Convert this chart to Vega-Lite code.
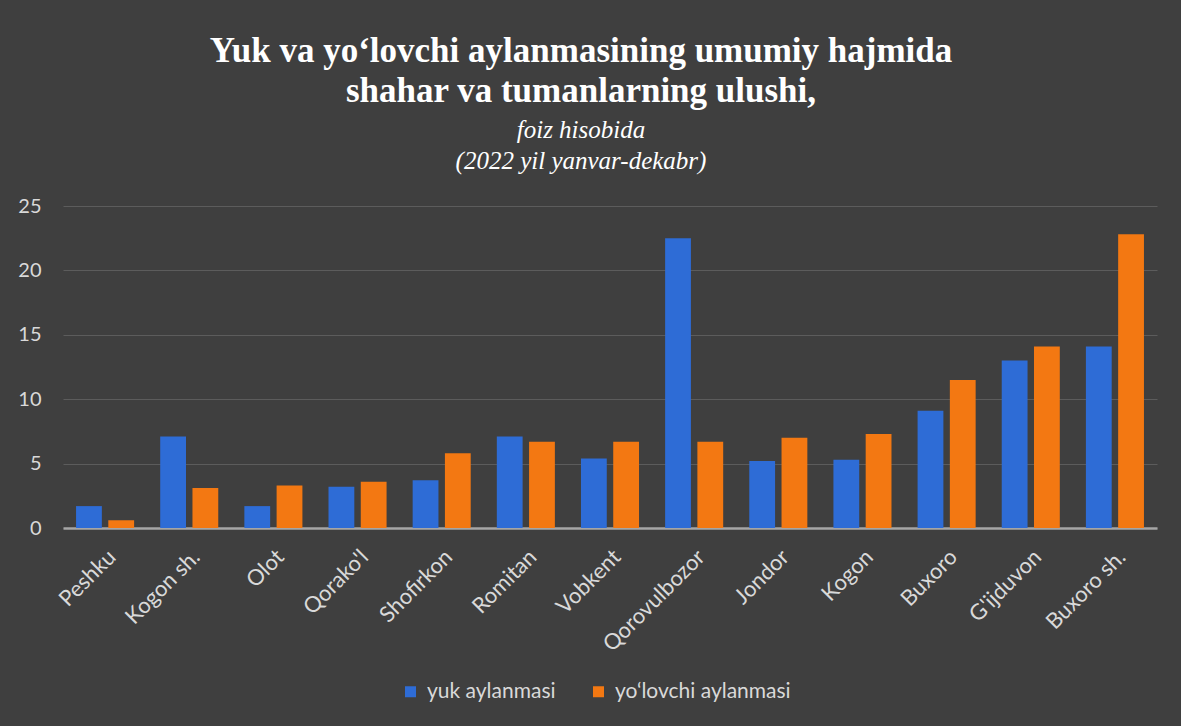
{
  "$schema": "https://vega.github.io/schema/vega-lite/v6.json",
  "width": 1094,
  "height": 322,
  "autosize": {"type": "none"},
  "padding": {"left": 63, "top": 206, "right": 24, "bottom": 198},
  "background": "#3f3f3f",
  "title": {
    "text": ["Yuk va yo‘lovchi aylanmasining umumiy hajmida", "shahar va tumanlarning ulushi,"],
    "subtitle": ["foiz hisobida", "(2022 yil yanvar-dekabr)"],
    "anchor": "middle",
    "dx": -29,
    "offset": 22,
    "font": "Liberation Serif",
    "fontSize": 35,
    "fontWeight": "bold",
    "color": "#ffffff",
    "lineHeight": 40,
    "subtitleFont": "Liberation Serif",
    "subtitleFontSize": 25,
    "subtitleFontStyle": "italic",
    "subtitleColor": "#ffffff",
    "subtitleLineHeight": 31,
    "subtitlePadding": 9
  },
  "data": {
    "values": [
      {"region": "Peshku", "series": "yuk aylanmasi", "value": 1.7},
      {"region": "Peshku", "series": "yo‘lovchi aylanmasi", "value": 0.6},
      {"region": "Kogon sh.", "series": "yuk aylanmasi", "value": 7.1},
      {"region": "Kogon sh.", "series": "yo‘lovchi aylanmasi", "value": 3.1},
      {"region": "Olot", "series": "yuk aylanmasi", "value": 1.7},
      {"region": "Olot", "series": "yo‘lovchi aylanmasi", "value": 3.3},
      {"region": "Qorako'l", "series": "yuk aylanmasi", "value": 3.2},
      {"region": "Qorako'l", "series": "yo‘lovchi aylanmasi", "value": 3.6},
      {"region": "Shofirkon", "series": "yuk aylanmasi", "value": 3.7},
      {"region": "Shofirkon", "series": "yo‘lovchi aylanmasi", "value": 5.8},
      {"region": "Romitan", "series": "yuk aylanmasi", "value": 7.1},
      {"region": "Romitan", "series": "yo‘lovchi aylanmasi", "value": 6.7},
      {"region": "Vobkent", "series": "yuk aylanmasi", "value": 5.4},
      {"region": "Vobkent", "series": "yo‘lovchi aylanmasi", "value": 6.7},
      {"region": "Qorovulbozor", "series": "yuk aylanmasi", "value": 22.5},
      {"region": "Qorovulbozor", "series": "yo‘lovchi aylanmasi", "value": 6.7},
      {"region": "Jondor", "series": "yuk aylanmasi", "value": 5.2},
      {"region": "Jondor", "series": "yo‘lovchi aylanmasi", "value": 7.0},
      {"region": "Kogon", "series": "yuk aylanmasi", "value": 5.3},
      {"region": "Kogon", "series": "yo‘lovchi aylanmasi", "value": 7.3},
      {"region": "Buxoro", "series": "yuk aylanmasi", "value": 9.1},
      {"region": "Buxoro", "series": "yo‘lovchi aylanmasi", "value": 11.5},
      {"region": "G'ijduvon", "series": "yuk aylanmasi", "value": 13.0},
      {"region": "G'ijduvon", "series": "yo‘lovchi aylanmasi", "value": 14.1},
      {"region": "Buxoro sh.", "series": "yuk aylanmasi", "value": 14.1},
      {"region": "Buxoro sh.", "series": "yo‘lovchi aylanmasi", "value": 22.8}
    ]
  },
  "mark": {"type": "bar"},
  "encoding": {
    "x": {
      "field": "region",
      "type": "nominal",
      "sort": null,
      "title": null,
      "scale": {"paddingInner": 0.31, "paddingOuter": 0.155},
      "axis": {
        "labelAngle": -45,
        "labelFont": "Lato",
        "labelFontSize": 22,
        "labelColor": "#d9d9d9",
        "labelPadding": 18,
        "labelLimit": 0,
        "ticks": false,
        "domainColor": "#a6a6a6",
        "domainWidth": 2.5,
        "grid": false
      }
    },
    "xOffset": {
      "field": "series",
      "type": "nominal",
      "sort": ["yuk aylanmasi", "yo‘lovchi aylanmasi"],
      "scale": {"paddingInner": 0.2, "paddingOuter": 0}
    },
    "y": {
      "field": "value",
      "type": "quantitative",
      "title": null,
      "scale": {"domain": [0, 25], "nice": false},
      "axis": {
        "values": [0, 5, 10, 15, 20, 25],
        "labelFont": "Lato",
        "labelFontSize": 20,
        "labelColor": "#d9d9d9",
        "labelPadding": 22,
        "ticks": false,
        "domain": false,
        "gridColor": "#5c5c5c",
        "gridWidth": 1
      }
    },
    "color": {
      "field": "series",
      "type": "nominal",
      "sort": ["yuk aylanmasi", "yo‘lovchi aylanmasi"],
      "scale": {"domain": ["yuk aylanmasi", "yo‘lovchi aylanmasi"], "range": ["#2e6cd6", "#f37812"]},
      "legend": {
        "title": null,
        "orient": "none",
        "direction": "horizontal",
        "legendX": 337,
        "legendY": 475,
        "symbolType": "square",
        "symbolSize": 121,
        "symbolStrokeWidth": 0,
        "labelFont": "Lato",
        "labelFontSize": 21,
        "labelColor": "#d9d9d9",
        "labelOffset": 6,
        "labelLimit": 0,
        "columnPadding": 32
      }
    }
  },
  "config": {
    "view": {"stroke": null}
  }
}
